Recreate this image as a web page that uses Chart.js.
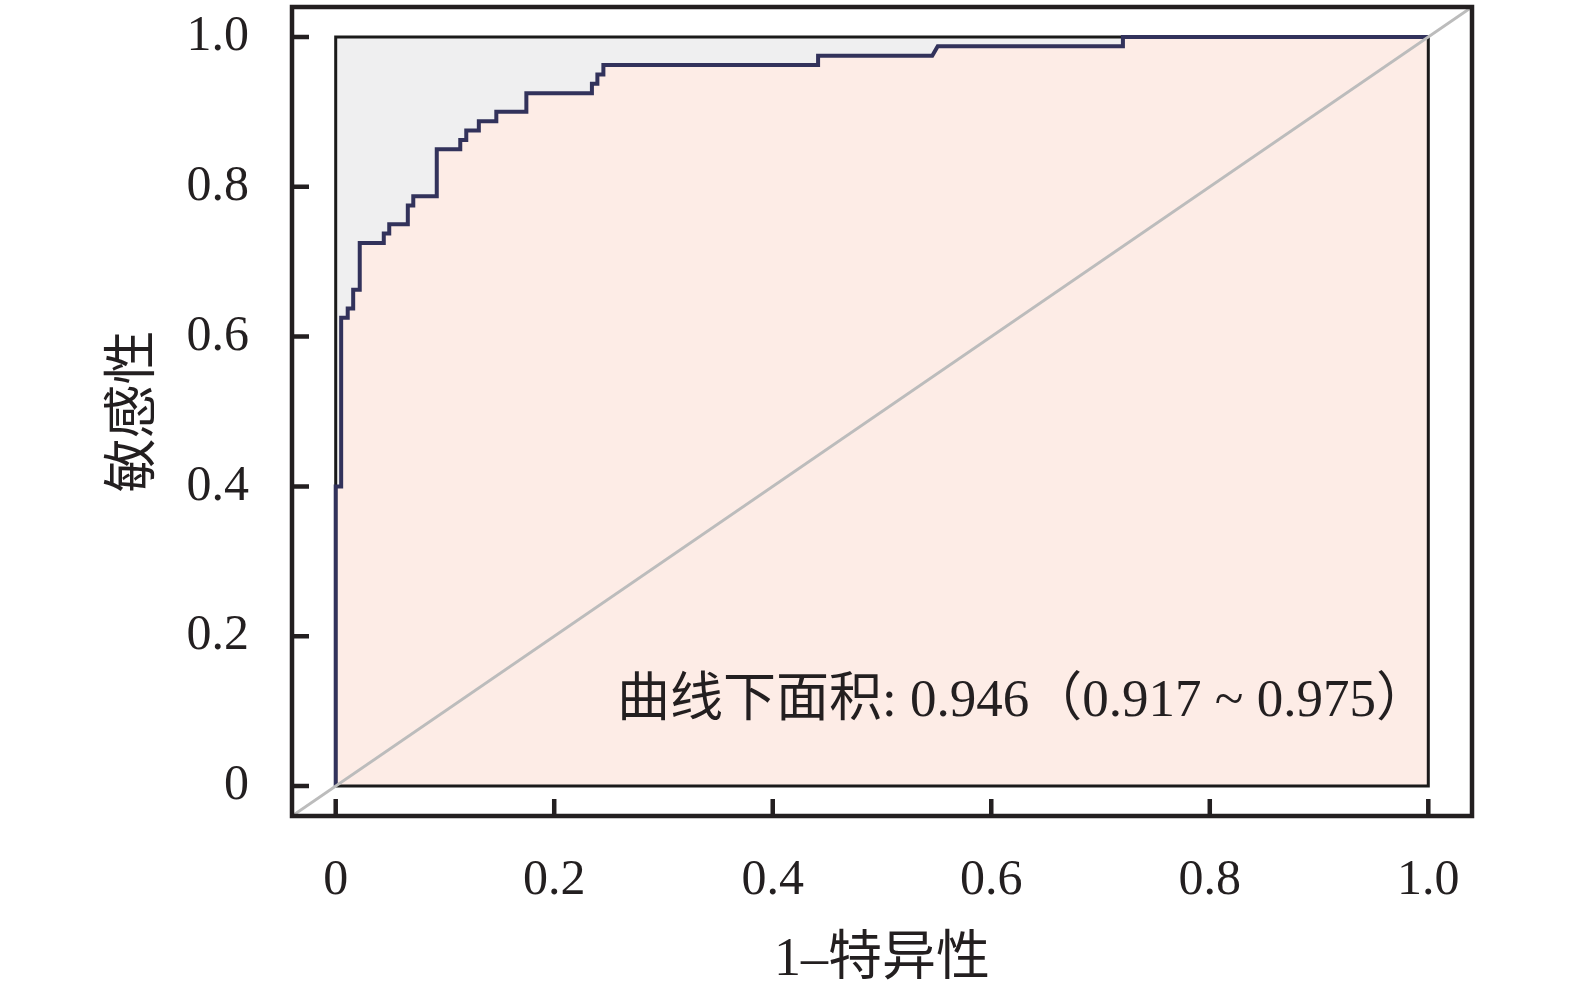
<!DOCTYPE html>
<html>
<head>
<meta charset="utf-8">
<script src="https://cdn.jsdelivr.net/npm/chart.js@4.4.1/dist/chart.umd.min.js"></script>
<style>
html, body { margin: 0; padding: 0; background: #fff; }
#wrap { width: 1575px; height: 1000px; }
</style>
</head>
<body>
<div id="wrap"><canvas id="roc" width="1575" height="1000"></canvas></div>
<script>
// ROC corners (1 - specificity, sensitivity)
let fpr = [0, 0, 0.005, 0.005, 0.011, 0.011, 0.016, 0.016, 0.022, 0.022,
    0.044, 0.044, 0.049, 0.049, 0.066, 0.066, 0.071, 0.071, 0.0925, 0.0925,
    0.114, 0.114, 0.1195, 0.1195, 0.131, 0.131, 0.147, 0.147, 0.1745, 0.1745,
    0.2345, 0.2345, 0.2395, 0.2395, 0.245, 0.245, 0.4415, 0.4415, 0.546, 0.551,
    0.7205, 0.7205, 1];
let tpr = [0, 0.4, 0.4, 0.625, 0.625, 0.6375, 0.6375, 0.6625, 0.6625, 0.725,
    0.725, 0.7375, 0.7375, 0.75, 0.75, 0.775, 0.775, 0.7875, 0.7875, 0.85,
    0.85, 0.8625, 0.8625, 0.875, 0.875, 0.8875, 0.8875, 0.9, 0.9, 0.925,
    0.925, 0.9375, 0.9375, 0.95, 0.95, 0.9625, 0.9625, 0.975, 0.975, 0.9875,
    0.9875, 1, 1];

let tickVals = [0, 0.2, 0.4, 0.6, 0.8, 1.0];
let tickLabels = ["0", "0.2", "0.4", "0.6", "0.8", "1.0"];
let refLine = [-0.04, 1.04];
let boxX = [0, 1, 1, 0, 0];
let boxY = [0, 0, 1, 1, 0];
let aucText = "曲线下面积: 0.946（0.917 ~ 0.975）";

let serif = "'Liberation Serif', 'Noto Sans CJK SC', serif";
let ink = "#231f20";

function pts(xs, ys) {
    return xs.map((x, i) => ({x: x, y: ys[i]}));
}

// frame, inward ticks and the AUC label
let decor = {
    id: "decor",
    afterDatasetsDraw(chart) {
        let ctx = chart.ctx;
        let xs = chart.scales.x, ys = chart.scales.y;
        ctx.save();
        ctx.font = "53px " + serif;
        ctx.fillStyle = ink;
        ctx.textAlign = "center";
        ctx.textBaseline = "middle";
        ctx.fillText(aucText, xs.getPixelForValue(0.629), ys.getPixelForValue(0.112));
        ctx.restore();
    },
    afterDraw(chart) {
        let ctx = chart.ctx;
        let a = chart.chartArea;
        let xs = chart.scales.x, ys = chart.scales.y;
        ctx.save();
        ctx.strokeStyle = ink;
        ctx.lineWidth = 4.5;
        ctx.lineCap = "butt";
        ctx.beginPath();
        tickVals.forEach(v => {
            let px = xs.getPixelForValue(v);
            ctx.moveTo(px, a.bottom);
            ctx.lineTo(px, a.bottom - 17);
            let py = ys.getPixelForValue(v);
            ctx.moveTo(a.left, py);
            ctx.lineTo(a.left + 17, py);
        });
        ctx.stroke();
        ctx.strokeRect(a.left, a.top, a.right - a.left, a.bottom - a.top);
        ctx.restore();
    }
};

function axis(title, pad, fit) {
    return {
        type: "linear",
        min: -0.04,
        max: 1.04,
        afterBuildTicks: s => { s.ticks = tickVals.map(v => ({value: v})); },
        afterFit: fit,
        grid: {display: false, drawTicks: false},
        border: {display: false},
        ticks: {
            padding: pad,
            color: ink,
            font: {family: serif, size: 50},
            callback: v => tickLabels[tickVals.indexOf(v)] ?? ""
        },
        title: {display: true, text: title, color: ink, font: {family: serif, size: 54}}
    };
}

let xAxis = axis("1–特异性", 35, s => {
    s.height = 184;
    s.paddingLeft = 0;
    s.paddingRight = 0;
});
xAxis.title.padding = {top: 0, bottom: 7};
let yAxis = axis("敏感性", 43, s => {
    s.width = 292;
    s.paddingTop = 0;
    s.paddingBottom = 0;
});
yAxis.title.padding = {top: 103, bottom: 0};

new Chart("roc", {
    type: "scatter",
    data: {
        datasets: [{
            // reference diagonal
            data: pts(refLine, refLine),
            showLine: true,
            borderColor: "#bcbcbc",
            borderWidth: 3,
            pointRadius: 0,
            fill: false
        }, {
            data: pts(fpr, tpr),
            showLine: true,
            borderColor: "#32325b",
            borderWidth: 4,
            pointRadius: 0,
            backgroundColor: "#fdece6",
            fill: "origin"
        }, {
            // unit box outline
            data: pts(boxX, boxY),
            showLine: true,
            borderColor: "#1a1a1a",
            borderWidth: 3,
            pointRadius: 0,
            fill: false
        }, {
            // grey part above the curve
            data: pts([0, 1], [1, 1]),
            showLine: true,
            borderWidth: 0,
            borderColor: "rgba(0,0,0,0)",
            pointRadius: 0,
            backgroundColor: "#efeff0",
            fill: "origin"
        }]
    },
    options: {
        responsive: false,
        animation: false,
        layout: {padding: {top: 7, right: 103, bottom: 0, left: 0}},
        plugins: {
            legend: {display: false},
            tooltip: {enabled: false},
            filler: {drawTime: "beforeDatasetsDraw"}
        },
        scales: {x: xAxis, y: yAxis}
    },
    plugins: [decor]
});
</script>
</body>
</html>
